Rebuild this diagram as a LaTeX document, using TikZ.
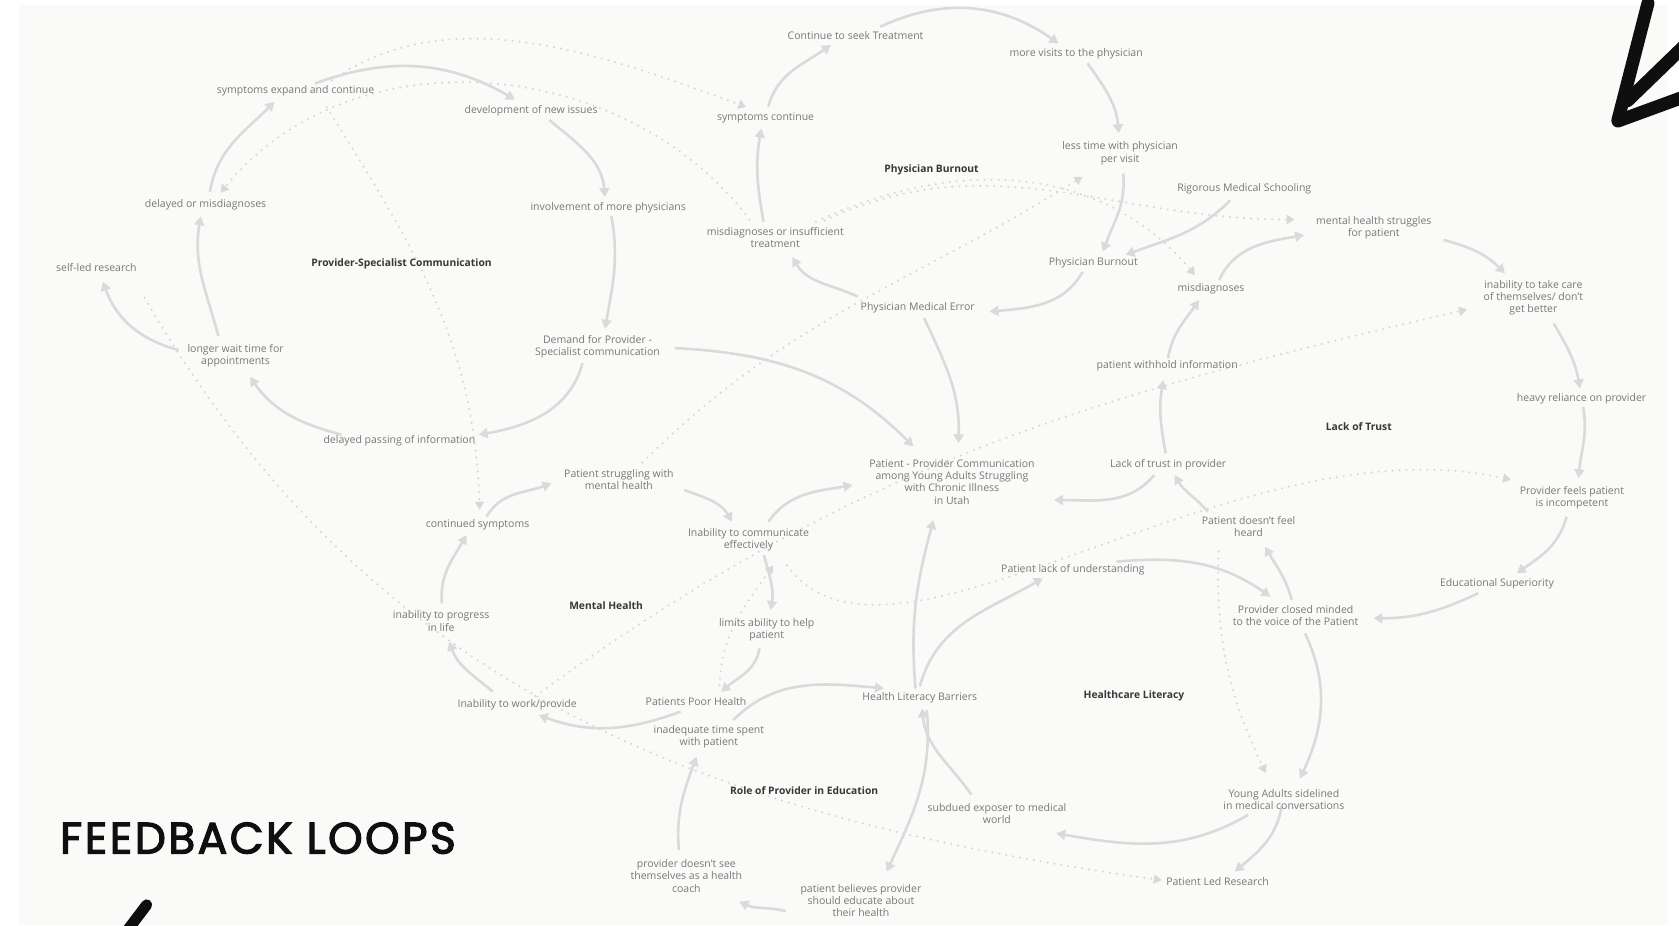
\documentclass[tikz,border=0pt]{standalone}
\usepackage{fontspec}
\setmainfont{Open Sans}
\newfontfamily\titlefont[LetterSpace=5.5]{Poppins}
\usetikzlibrary{arrows.meta,calc}
\definecolor{panel}{RGB}{250,250,248}
\definecolor{labcol}{RGB}{120,120,120}
\definecolor{ttlcol}{RGB}{55,55,55}
\definecolor{arrcol}{RGB}{218,218,218}
\definecolor{dotcol}{RGB}{216,216,216}
\definecolor{ink}{RGB}{15,15,15}
\newcommand\heavytext[1]{\special{pdf:literal direct 2 Tr 1.2 w}#1\special{pdf:literal direct 0 Tr}}
\pgfdeclarelayer{bg}
\pgfdeclarelayer{lines}
\pgfsetlayers{bg,lines,main}
\begin{document}
\begin{tikzpicture}[x=1.0708pt,y=1.0708pt,
 lab/.style={font=\fontsize{10.5}{12.3}\selectfont, text=labcol, align=center, inner sep=0pt},
 ttl/.style={font=\fontsize{10.3}{12}\selectfont\bfseries, text=ttlcol, inner sep=0pt},
 sa/.style={draw=arrcol, line width=2.6pt, -{Triangle[length=9pt,width=10pt]}},
 da/.style={draw=dotcol, line width=2.4pt, dash pattern=on 0pt off 7pt, line cap=round, -{Triangle[length=8pt,width=9pt]}},
 mk/.style={draw=ink, line width=13pt, line cap=round}]
\useasboundingbox (0,0) rectangle (1568,-864);
\begin{pgfonlayer}{bg}
\fill[white] (0,0) rectangle (1568,-864);
\fill[panel] (17.7,-4.7) rectangle (1557.7,-864);
\end{pgfonlayer}

% Provider-Specialist Communication
\node[lab] (A1) at (276,-85) {symptoms expand and continue};
\node[lab] (A2) at (496,-103) {development of new issues};
\node[lab] (A3) at (568,-194) {involvement of more physicians};
\node[lab] (A4) at (558,-324) {Demand for Provider -\\Specialist communication};
\node[lab] (A5) at (373,-412) {delayed passing of information};
\node[lab] (A6) at (220,-332) {longer wait time for\\appointments};
\node[lab] (A7) at (192,-191) {delayed or misdiagnoses};
\node[lab] (A8) at (90,-250) {self-led research};
\node[ttl] (T1) at (375,-246) {Provider-Specialist Communication};

% Physician Burnout
\node[lab] (B1) at (799,-33) {Continue to seek Treatment};
\node[lab] (B2) at (1005,-50) {more visits to the physician};
\node[lab] (B3) at (1046,-143) {less time with physician\\per visit};
\node[lab] (B4) at (1021,-245) {Physician Burnout};
\node[lab] (B5) at (857,-287) {Physician Medical Error};
\node[lab] (B6) at (724,-222) {misdiagnoses or insufficient\\treatment};
\node[lab] (B7) at (715,-110) {symptoms continue};
\node[lab] (B8) at (1162,-176) {Rigorous Medical Schooling};
\node[ttl] (T2) at (870,-159) {Physician Burnout};

% Lack of Trust
\node[lab] (C1) at (1283,-213) {mental health struggles\\for patient};
\node[lab] (C2) at (1432,-278) {inability to take care\\of themselves/ don't\\get better};
\node[lab] (C3) at (1477,-372) {heavy reliance on provider};
\node[lab] (C4) at (1468,-465) {Provider feels patient\\is incompetent};
\node[lab] (C5) at (1398,-545) {Educational Superiority};
\node[lab] (C6) at (1210,-575) {Provider closed minded\\to the voice of the Patient};
\node[lab] (C7) at (1166,-492) {Patient doesn't feel\\heard};
\node[lab] (C8) at (1091,-434) {Lack of trust in provider};
\node[lab] (C9) at (1090,-342) {patient withhold information};
\node[lab] (C10) at (1131,-270) {misdiagnoses};
\node[ttl] (T3) at (1269,-398) {Lack of Trust};

% Center
\node[lab] (CEN) at (889,-450) {Patient - Provider Communication\\among Young Adults Struggling\\with Chronic Illness\\in Utah};

% Mental Health
\node[lab] (D1) at (578,-448) {Patient struggling with\\mental health};
\node[lab] (D2) at (699,-504) {Inability to communicate\\effectively};
\node[lab] (D3) at (716,-588) {limits ability to help\\patient};
\node[lab] (D4) at (650,-655) {Patients Poor Health};
\node[lab] (D5) at (483,-658) {Inability to work/provide};
\node[lab] (D6) at (412,-580) {inability to progress\\in life};
\node[lab] (D7) at (446,-490) {continued symptoms};
\node[ttl] (T4) at (566,-566) {Mental Health};

% Healthcare Literacy
\node[lab] (E1) at (1002,-532) {Patient lack of understanding};
\node[lab] (E2) at (859,-652) {Health Literacy Barriers};
\node[lab] (E3) at (931,-760) {subdued exposer to medical\\world};
\node[lab] (E4) at (1199,-747) {Young Adults sidelined\\in medical conversations};
\node[lab] (E5) at (1137,-823) {Patient Led Research};
\node[ttl] (T5) at (1059,-650) {Healthcare Literacy};

% Role of Provider in Education
\node[lab] (F1) at (662,-688) {inadequate time spent\\with patient};
\node[lab] (F2) at (641,-818) {provider doesn't see\\themselves as a health\\coach};
\node[lab] (F3) at (804,-841) {patient believes provider\\should educate about\\their health};
\node[ttl] (T6) at (751,-738) {Role of Provider in Education};

\node[font=\titlefont\fontsize{44}{44}\selectfont, text=ink, anchor=west, inner sep=0pt] (FL) at (56,-782.7) {\heavytext{FEEDBACK LOOPS}};

\begin{pgfonlayer}{lines}
% dotted links
\draw[da] ($(A1)+(34,10)$) to[out=35,in=160,looseness=0.9] ($(B7)+(-18,10)$);
\draw[da] ($(B6)+(-24,17)$) to[out=127,in=51] ($(A7)+(14,11)$);
\draw[da] ($(B6)+(38,15)$) to[out=25,in=130] ($(C10)+(-15,13)$);
\draw[da] ($(B6)+(46,16)$) to[out=25,in=180] ($(C1)+(-74,8)$);
\draw[da] ($(D1)+(22,16)$) to[out=45,in=-148] ($(B3)+(-35,-22)$);
\draw[da] ($(D5)+(17,8)$) to[out=36,in=-167] ($(C2)+(-62,-11)$);
\draw[da] ($(A8)+(45,-28)$) to[out=-60,in=172] ($(E5)+(-52,1)$);
\draw[da] ($(A1)+(29,-15)$) to[out=-58,in=92] ($(D7)+(2,14)$);
\draw[da] ($(D2)+(36,-24)$) .. controls (830,-660) and (1150,-390) .. ($(C4)+(-57,17)$);
\draw[da] ($(D4)+(22,15)$) to[out=88,in=-125] ($(D2)+(23,-24)$);
\draw[da] ($(C7)+(-28,-23)$) to[out=-92,in=115] ($(E4)+(-17,25)$);

% Provider-Specialist loop
\draw[sa] ($(A1)+(18,7)$) to[out=20,in=150] ($(A2)+(-15,10)$);
\draw[sa] ($(A2)+(17,-9)$) to[out=-40,in=95] ($(A3)+(-3,10)$);
\draw[sa] ($(A3)+(3,-8)$) to[out=-80,in=80] ($(A4)+(7,17)$);
\draw[sa] ($(A4)+(-14,-15)$) to[out=-105,in=10] ($(A5)+(74,6)$);
\draw[sa] ($(A5)+(-54,6)$) to[out=165,in=-55] ($(A6)+(13.5,-20)$);
\draw[sa] ($(A6)+(-16,18)$) to[out=105,in=-100] ($(A7)+(-4.4,-11)$);
\draw[sa] ($(A7)+(4,12)$) to[out=80,in=-135] ($(A1)+(-19.6,-10)$);
\draw[sa] ($(A6)+(-53,5)$) to[out=165,in=-70] ($(A8)+(6,-13)$);
\draw[sa] ($(A4)+(72,-1)$) to[out=-3,in=135] ($(CEN)+(-36,33)$);

% Physician Burnout loop
\draw[sa] ($(B7)+(2.5,10.4)$) to[out=75,in=-145] ($(B1)+(-23,-9)$);
\draw[sa] ($(B1)+(23,8)$) to[out=25,in=145] ($(B2)+(-16.5,9.5)$);
\draw[sa] ($(B2)+(10.6,-9)$) to[out=-55,in=95] ($(B3)+(-1.2,18.5)$);
\draw[sa] ($(B3)+(3,-19)$) to[out=-85,in=70] ($(B4)+(9,10)$);
\draw[sa] ($(B8)+(-13,-11)$) to[out=-135,in=20] ($(B4)+(30,7)$);
\draw[sa] ($(B4)+(-10,-9)$) to[out=-120,in=5] ($(B5)+(67,-4)$);
\draw[sa] ($(B5)+(-56,10)$) to[out=155,in=-60] ($(B6)+(16,-18)$);
\draw[sa] ($(B6)+(-11,15)$) to[out=100,in=-100] ($(B7)+(-4,-10)$);
\draw[sa] ($(B5)+(6,-10)$) to[out=-65,in=88] ($(CEN)+(6,36)$);

% Lack of Trust loop
\draw[sa] ($(C10)+(7.5,8.5)$) to[out=65,in=-170] ($(C1)+(-65,-6.5)$);
\draw[sa] ($(C1)+(65,-11)$) to[out=-15,in=135] ($(C2)+(-26.5,22.7)$);
\draw[sa] ($(C2)+(19,-24)$) to[out=-60,in=100] ($(C3)+(-1.4,9.3)$);
\draw[sa] ($(C3)+(1.4,-8)$) to[out=-80,in=85] ($(C4)+(6.2,18.3)$);
\draw[sa] ($(C4)+(-5,-17.5)$) to[out=-105,in=35] ($(C5)+(18.4,9.6)$);
\draw[sa] ($(C5)+(-17.4,-9)$) to[out=-155,in=0] ($(C6)+(72.6,-2.4)$);
\draw[sa] ($(C6)+(-3.7,14.7)$) to[out=105,in=-60] ($(C7)+(15.4,-18.5)$);
\draw[sa] ($(C7)+(-38,14)$) to[out=130,in=-60] ($(C8)+(6,-9.6)$);
\draw[sa] ($(C8)+(-13,-9.6)$) to[out=-130,in=0] ($(CEN)+(95.3,-17)$);
\draw[sa] ($(C8)+(-2.4,10.6)$) to[out=100,in=-100] ($(C9)+(-3.5,-13)$);
\draw[sa] ($(C9)+(0.7,7.3)$) to[out=80,in=-125] ($(C10)+(-11.2,-10.2)$);
\draw[sa] ($(C6)+(8.8,-16.4)$) to[out=-65,in=65] ($(E4)+(15,20)$);
\draw[sa] ($(E1)+(40.7,7.5)$) to[out=5,in=145] ($(C6)+(-23.5,17.8)$);

% Healthcare Literacy loop
\draw[sa] ($(E2)+(0,11)$) to[out=75,in=-150] ($(E1)+(-28,-8)$);
\draw[sa] ($(E2)+(-4,9)$) to[out=95,in=-105] ($(CEN)+(-17.3,-35.6)$);
\draw[sa] ($(E4)+(-33.3,-14)$) to[out=-150,in=-10] ($(E3)+(55.4,-18.2)$);
\draw[sa] ($(E4)+(-2,-6)$) to[out=-100,in=40] ($(E5)+(16,9)$);
\draw[sa] ($(E3)+(-24,18)$) to[out=125,in=-85] ($(E2)+(2.3,-9.5)$);

% Role of Provider in Education loop
\draw[sa] ($(E2)+(6.5,-11)$) to[out=-85,in=65] ($(F3)+(24,27)$);
\draw[sa] ($(F3)+(-70,-10)$) to[out=165,in=-25] ($(F2)+(49.4,-24)$);
\draw[sa] ($(F2)+(-7,24)$) to[out=95,in=-110] ($(F1)+(-11.6,-18.7)$);
\draw[sa] ($(F1)+(22.8,15.6)$) to[out=45,in=175] ($(E2)+(-33.4,9.2)$);

% Mental Health loop
\draw[sa] ($(D7)+(8.4,7.5)$) to[out=60,in=-160] ($(D1)+(-63,-3.4)$);
\draw[sa] ($(D1)+(61,-9.6)$) to[out=-20,in=120] ($(D2)+(-15.3,16.8)$);
\draw[sa] ($(D2)+(18.6,16.8)$) to[out=55,in=-170] ($(CEN)+(-92.8,-3)$);
\draw[sa] ($(D2)+(14.3,-14.3)$) to[out=-75,in=80] ($(D3)+(3.6,18.3)$);
\draw[sa] ($(D3)+(-6.7,-17.5)$) to[out=-100,in=40] ($(D4)+(23.3,9)$);
\draw[sa] ($(D4)+(-14.4,-9.6)$) to[out=-160,in=-20] ($(D5)+(20,-9.8)$);
\draw[sa] ($(D5)+(-22.6,12)$) to[out=140,in=-70] ($(D6)+(7.5,-19.3)$);
\draw[sa] ($(D6)+(0.7,16.6)$) to[out=95,in=-120] ($(D7)+(-10.3,-9.6)$);
\end{pgfonlayer}

% marker strokes
\begin{scope}
\clip (0,0) rectangle (1568,-864);
\draw[mk] (1539,-3) -- (1511,-112);
\draw[mk] (1511,-113) -- (1582,-87);
\draw[mk] (1520,-94) -- (1582,-34);
\draw[mk,line width=11pt] (137,-845) -- (112,-878);
\end{scope}
\end{tikzpicture}
\end{document}
